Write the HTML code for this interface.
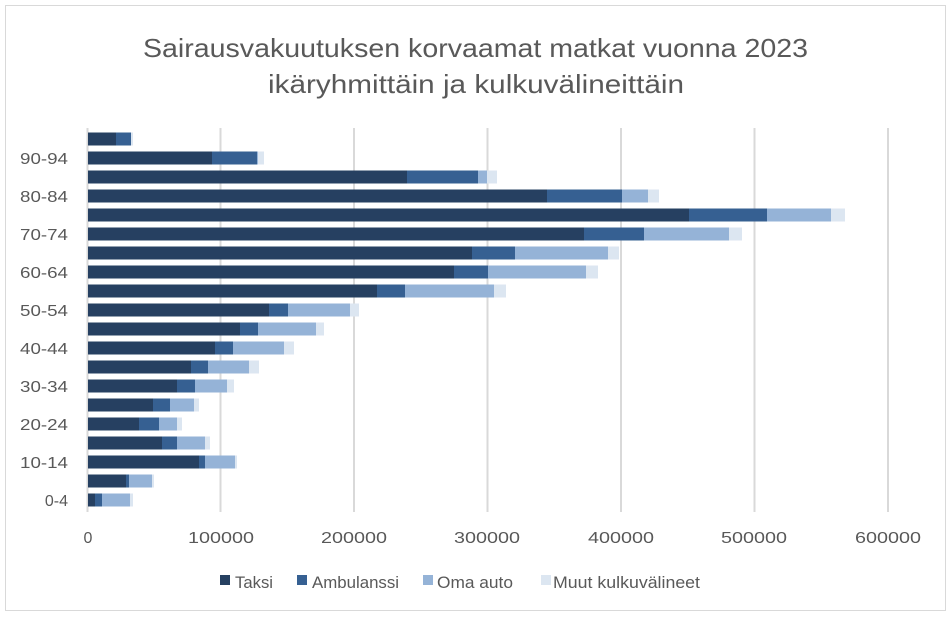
<!DOCTYPE html>
<html><head><meta charset="utf-8"><style>body{margin:0;background:#fff}svg{display:block}text{font-family:"Liberation Sans",sans-serif;fill:#595959}.t{fill:#264061}.a{fill:#366092}.o{fill:#95b3d7}.m{fill:#dce6f1}</style></head>
<body>
<svg width="952" height="617" xmlns="http://www.w3.org/2000/svg">
<rect x="5.5" y="5.5" width="940" height="605" fill="#fff" stroke="#d9d9d9"/>
<text x="143" y="57" font-size="26" textLength="665" lengthAdjust="spacingAndGlyphs">Sairausvakuutuksen korvaamat matkat vuonna 2023</text>
<text x="268" y="93" font-size="26" textLength="416" lengthAdjust="spacingAndGlyphs">ikäryhmittäin ja kulkuvälineittäin</text>
<g stroke="#d9d9d9" stroke-width="2">
<line x1="87.5" y1="128" x2="87.5" y2="512"/><line x1="220.5" y1="128" x2="220.5" y2="512"/><line x1="354" y1="128" x2="354" y2="512"/><line x1="487.5" y1="128" x2="487.5" y2="512"/><line x1="621" y1="128" x2="621" y2="512"/><line x1="754.5" y1="128" x2="754.5" y2="512"/><line x1="888" y1="128" x2="888" y2="512"/>
</g>
<g>
<rect class="t" x="88" y="132.5" width="28" height="13"/><rect class="a" x="116" y="132.5" width="15" height="13"/><rect class="m" x="131" y="132.5" width="2" height="13"/>
<rect class="t" x="88" y="151.5" width="124" height="13"/><rect class="a" x="212" y="151.5" width="45" height="13"/><rect class="o" x="257" y="151.5" width="1" height="13"/><rect class="m" x="258" y="151.5" width="6" height="13"/>
<rect class="t" x="88" y="170.5" width="319" height="13"/><rect class="a" x="407" y="170.5" width="71" height="13"/><rect class="o" x="478" y="170.5" width="9" height="13"/><rect class="m" x="487" y="170.5" width="10" height="13"/>
<rect class="t" x="88" y="189.5" width="459" height="13"/><rect class="a" x="547" y="189.5" width="75" height="13"/><rect class="o" x="622" y="189.5" width="26" height="13"/><rect class="m" x="648" y="189.5" width="11" height="13"/>
<rect class="t" x="88" y="208.5" width="601" height="13"/><rect class="a" x="689" y="208.5" width="78" height="13"/><rect class="o" x="767" y="208.5" width="64" height="13"/><rect class="m" x="831" y="208.5" width="14" height="13"/>
<rect class="t" x="88" y="227.5" width="496" height="13"/><rect class="a" x="584" y="227.5" width="60" height="13"/><rect class="o" x="644" y="227.5" width="85" height="13"/><rect class="m" x="729" y="227.5" width="13" height="13"/>
<rect class="t" x="88" y="246.5" width="384" height="13"/><rect class="a" x="472" y="246.5" width="43" height="13"/><rect class="o" x="515" y="246.5" width="93" height="13"/><rect class="m" x="608" y="246.5" width="11" height="13"/>
<rect class="t" x="88" y="265.5" width="366" height="13"/><rect class="a" x="454" y="265.5" width="34" height="13"/><rect class="o" x="488" y="265.5" width="98" height="13"/><rect class="m" x="586" y="265.5" width="12" height="13"/>
<rect class="t" x="88" y="284.5" width="289" height="13"/><rect class="a" x="377" y="284.5" width="28" height="13"/><rect class="o" x="405" y="284.5" width="89" height="13"/><rect class="m" x="494" y="284.5" width="12" height="13"/>
<rect class="t" x="88" y="303.5" width="181" height="13"/><rect class="a" x="269" y="303.5" width="19" height="13"/><rect class="o" x="288" y="303.5" width="62" height="13"/><rect class="m" x="350" y="303.5" width="9" height="13"/>
<rect class="t" x="88" y="322.5" width="152" height="13"/><rect class="a" x="240" y="322.5" width="18" height="13"/><rect class="o" x="258" y="322.5" width="58" height="13"/><rect class="m" x="316" y="322.5" width="8" height="13"/>
<rect class="t" x="88" y="341.5" width="127" height="13"/><rect class="a" x="215" y="341.5" width="18" height="13"/><rect class="o" x="233" y="341.5" width="51" height="13"/><rect class="m" x="284" y="341.5" width="10" height="13"/>
<rect class="t" x="88" y="360.5" width="103" height="13"/><rect class="a" x="191" y="360.5" width="17" height="13"/><rect class="o" x="208" y="360.5" width="41" height="13"/><rect class="m" x="249" y="360.5" width="10" height="13"/>
<rect class="t" x="88" y="379.5" width="89" height="13"/><rect class="a" x="177" y="379.5" width="18" height="13"/><rect class="o" x="195" y="379.5" width="32" height="13"/><rect class="m" x="227" y="379.5" width="7" height="13"/>
<rect class="t" x="88" y="398.5" width="65" height="13"/><rect class="a" x="153" y="398.5" width="17" height="13"/><rect class="o" x="170" y="398.5" width="24" height="13"/><rect class="m" x="194" y="398.5" width="5" height="13"/>
<rect class="t" x="88" y="417.5" width="51" height="13"/><rect class="a" x="139" y="417.5" width="20" height="13"/><rect class="o" x="159" y="417.5" width="18" height="13"/><rect class="m" x="177" y="417.5" width="5" height="13"/>
<rect class="t" x="88" y="436.5" width="74" height="13"/><rect class="a" x="162" y="436.5" width="15" height="13"/><rect class="o" x="177" y="436.5" width="28" height="13"/><rect class="m" x="205" y="436.5" width="5" height="13"/>
<rect class="t" x="88" y="455.5" width="111" height="13"/><rect class="a" x="199" y="455.5" width="6" height="13"/><rect class="o" x="205" y="455.5" width="30" height="13"/><rect class="m" x="235" y="455.5" width="2" height="13"/>
<rect class="t" x="88" y="474.5" width="38" height="13"/><rect class="a" x="126" y="474.5" width="3" height="13"/><rect class="o" x="129" y="474.5" width="23" height="13"/><rect class="m" x="152" y="474.5" width="2" height="13"/>
<rect class="t" x="88" y="493.5" width="7" height="13"/><rect class="a" x="95" y="493.5" width="7" height="13"/><rect class="o" x="102" y="493.5" width="28" height="13"/><rect class="m" x="130" y="493.5" width="3" height="13"/>
</g>
<g font-size="16" text-anchor="middle">
<text x="88" y="543">0</text><text x="221" y="543" textLength="66" lengthAdjust="spacingAndGlyphs">100000</text><text x="354" y="543" textLength="66" lengthAdjust="spacingAndGlyphs">200000</text><text x="487" y="543" textLength="66" lengthAdjust="spacingAndGlyphs">300000</text><text x="621" y="543" textLength="66" lengthAdjust="spacingAndGlyphs">400000</text><text x="754" y="543" textLength="66" lengthAdjust="spacingAndGlyphs">500000</text><text x="888" y="543" textLength="66" lengthAdjust="spacingAndGlyphs">600000</text>
</g>
<g font-size="16" text-anchor="end">
<text x="68" y="506">0-4</text><text x="68" y="468" textLength="48" lengthAdjust="spacingAndGlyphs">10-14</text><text x="68" y="430" textLength="48" lengthAdjust="spacingAndGlyphs">20-24</text><text x="68" y="392" textLength="48" lengthAdjust="spacingAndGlyphs">30-34</text><text x="68" y="354" textLength="48" lengthAdjust="spacingAndGlyphs">40-44</text><text x="68" y="316" textLength="48" lengthAdjust="spacingAndGlyphs">50-54</text><text x="68" y="278" textLength="48" lengthAdjust="spacingAndGlyphs">60-64</text><text x="68" y="240" textLength="48" lengthAdjust="spacingAndGlyphs">70-74</text><text x="68" y="202" textLength="48" lengthAdjust="spacingAndGlyphs">80-84</text><text x="68" y="164" textLength="48" lengthAdjust="spacingAndGlyphs">90-94</text>
</g>
<g font-size="17">
<rect x="220" y="575" width="10" height="10" fill="#264061"/><text x="235" y="588" textLength="38" lengthAdjust="spacingAndGlyphs">Taksi</text>
<rect x="297" y="575" width="10" height="10" fill="#366092"/><text x="312" y="588" textLength="87" lengthAdjust="spacingAndGlyphs">Ambulanssi</text>
<rect x="423" y="575" width="10" height="10" fill="#95b3d7"/><text x="437" y="588" textLength="76" lengthAdjust="spacingAndGlyphs">Oma auto</text>
<rect x="541" y="575" width="10" height="10" fill="#dce6f1"/><text x="553" y="588" textLength="147" lengthAdjust="spacingAndGlyphs">Muut kulkuvälineet</text>
</g>
</svg>
</body></html>
